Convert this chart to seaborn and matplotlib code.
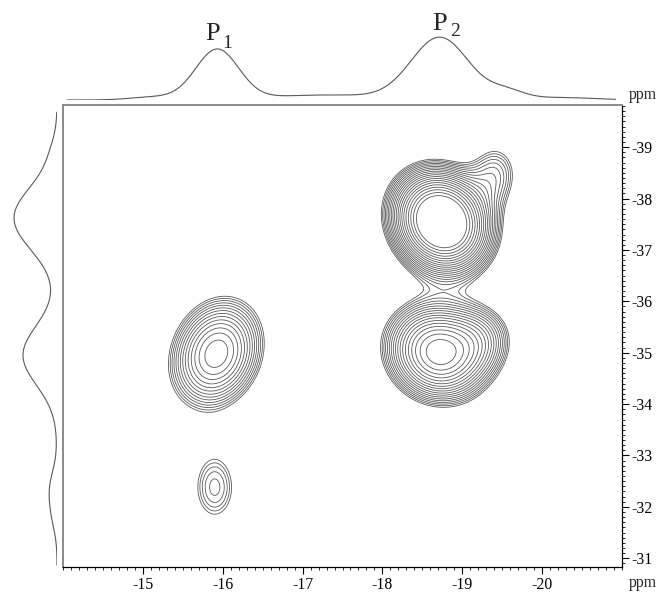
import numpy as np
import pandas as pd
import matplotlib
matplotlib.use("Agg")
import matplotlib.pyplot as plt
from matplotlib.ticker import FixedLocator, FixedFormatter, MultipleLocator
import seaborn as sns

# ---- 2D cross peaks: F2 / F1 position (ppm), widths (ppm), correlation, height ----
peak_f2 = [-18.74, -18.69, -15.92, -15.90, -19.42, -19.25]
peak_f1 = [-37.55, -35.00, -34.98, -32.38, -38.50, -35.30]
peak_w2 = [0.36, 0.39, 0.37, 0.23, 0.22, 0.28]
peak_w1 = [0.58, 0.58, 0.69, 0.57, 0.45, 0.45]
peak_rho = [-0.12, -0.10, 0.18, 0.0, 0.0, 0.0]
peak_height = [8.95, 5.34, 3.72, 1.52, 1.45, 1.45]

# geometric contour levels
contour_base = 1.0
contour_factor = 1.1
contour_count = 20

# ---- F2 projection (top trace) ----
top_ppm = [-15.93, -18.72, -19.55, -17.30, -15.15, -20.20]
top_height = [50, 62, 8, 5, 3, 2.5]
top_width = [0.27, 0.36, 0.22, 0.75, 0.30, 0.45]

# ---- F1 projection (left trace) ----
left_ppm = [-37.62, -34.95, -32.35, -38.90, -31.80]
left_height = [43, 34, 7, 3, 3.5]
left_width = [0.62, 0.58, 0.35, 0.30, 0.30]

x_ticks = [-15, -16, -17, -18, -19, -20]
x_tick_labels = ["-15", "-16", "-17", "-18", "-19", "-20"]
y_ticks = [-39, -38, -37, -36, -35, -34, -33, -32, -31]
y_tick_labels = ["-39", "-38", "-37", "-36", "-35", "-34", "-33", "-32", "-31"]

peak_labels = ["P", "P"]
peak_label_subs = ["1", "2"]

f2_lim = (-14.0, -21.0)
f1_lim = (-30.83, -39.82)

sns.set_theme(style="white")
plt.rcParams["font.family"] = ["Liberation Serif", "DejaVu Serif"]

W, H = 661, 594
fig = plt.figure(figsize=(W / 100, H / 100), dpi=100)
fig.patch.set_facecolor("white")

ax = fig.add_axes([63 / W, 27 / H, 559 / W, 462 / H])
ax_top = fig.add_axes([63 / W, 494 / H, 559 / W, 100 / H])
ax_left = fig.add_axes([0, 27 / H, 57 / W, 462 / H])

line_col = "#5a5a5a"

# ---- 2D spectrum on a grid ----
f2 = np.linspace(f2_lim[0], f2_lim[1], 600)
f1 = np.linspace(f1_lim[1], f1_lim[0], 650)
X, Y = np.meshgrid(f2, f1)
Z = np.zeros_like(X)
for cx, cy, sx, sy, r, h in zip(peak_f2, peak_f1, peak_w2, peak_w1, peak_rho, peak_height):
    u = (X - cx) / sx
    v = (Y - cy) / sy
    Z += h * np.exp(-(u * u - 2 * r * u * v + v * v) / (2 * (1 - r * r)))

levels = contour_base * contour_factor ** np.arange(contour_count)
ax.contour(X, Y, Z, levels=levels, colors=line_col, linewidths=0.6)

ax.set_xlim(*f2_lim)
ax.set_ylim(*f1_lim)

ax.xaxis.set_major_locator(FixedLocator(x_ticks))
ax.xaxis.set_major_formatter(FixedFormatter(x_tick_labels))
ax.xaxis.set_minor_locator(MultipleLocator(0.1))
ax.yaxis.tick_right()
ax.yaxis.set_major_locator(FixedLocator(y_ticks))
ax.yaxis.set_major_formatter(FixedFormatter(y_tick_labels))
ax.yaxis.set_minor_locator(MultipleLocator(0.1))
ax.tick_params(axis="both", which="major", direction="out", length=5, width=0.8,
               color="black", labelsize=11.3, labelcolor="black", pad=2)
ax.tick_params(axis="both", which="minor", direction="out", length=2.5, width=0.6,
               color="black")
ax.tick_params(axis="x", which="both", bottom=True, top=False)
ax.tick_params(axis="y", which="both", right=True, left=False)

for side in ("left", "top"):
    ax.spines[side].set_color("#8a8a8a")
    ax.spines[side].set_linewidth(1.4)
for side in ("right", "bottom"):
    ax.spines[side].set_color("black")
    ax.spines[side].set_linewidth(0.9)

# ---- top projection ----
tx = np.linspace(-14.05, -20.92, 700)
ty = np.zeros_like(tx)
for c, h, w in zip(top_ppm, top_height, top_width):
    ty += h * np.exp(-0.5 * ((tx - c) / w) ** 2)
sns.lineplot(data=pd.DataFrame({"ppm": tx, "I": ty}), x="ppm", y="I", ax=ax_top,
             color=line_col, linewidth=0.8, sort=False)
ax_top.set_xlim(*f2_lim)
ax_top.set_ylim(0, 100)
ax_top.axis("off")

ax_top.text(-15.87, 66, peak_labels[0], fontsize=19, ha="center", va="center")
ax_top.text(-16.06, 56, peak_label_subs[0], fontsize=14, ha="center", va="center")
ax_top.text(-18.72, 76, peak_labels[1], fontsize=19, ha="center", va="center")
ax_top.text(-18.91, 68, peak_label_subs[1], fontsize=14, ha="center", va="center")

# ---- left projection ----
ly = np.linspace(-39.68, -30.87, 700)
lx = np.zeros_like(ly)
for c, h, w in zip(left_ppm, left_height, left_width):
    lx += h * np.exp(-0.5 * ((ly - c) / w) ** 2)
sns.lineplot(data=pd.DataFrame({"I": lx, "ppm": ly}), x="I", y="ppm", ax=ax_left,
             color=line_col, linewidth=0.8, sort=False, orient="y")
ax_left.set_ylim(*f1_lim)
ax_left.set_xlim(57, 0)
ax_left.axis("off")

# axis unit labels
fig.text(643 / W, 1 - 95 / H, "ppm", fontsize=11.3, ha="center", va="center")
fig.text(643 / W, 1 - 583 / H, "ppm", fontsize=11.3, ha="center", va="center")

fig.savefig("out.png", dpi=100, facecolor="white")
